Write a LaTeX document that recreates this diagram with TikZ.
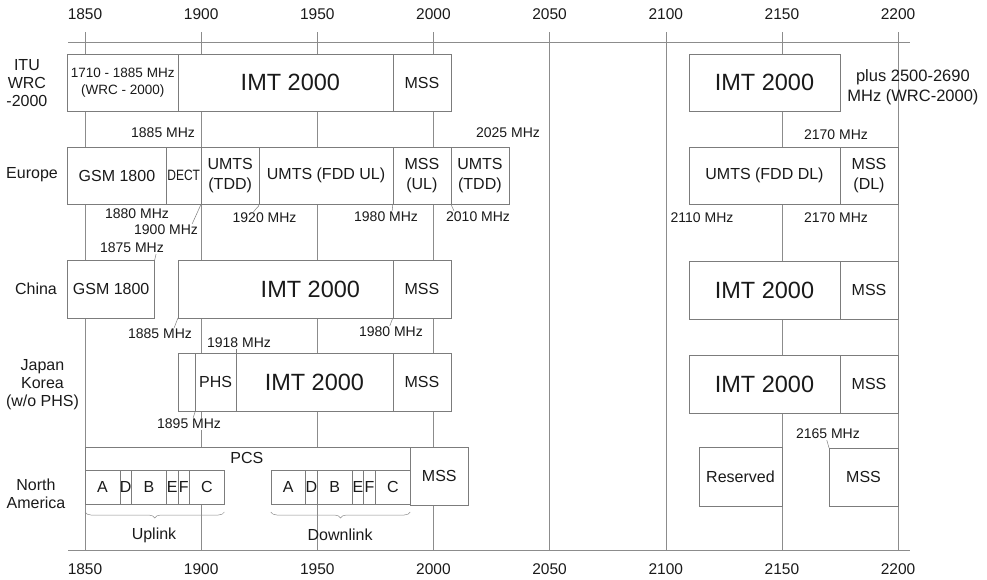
\documentclass[tikz,border=0pt]{standalone}
\usepackage{fontspec}
\setmainfont{Liberation Sans}
\usepackage{graphicx}
\usetikzlibrary{decorations.pathreplacing}
\definecolor{gridgray}{HTML}{8C8C8C}
\definecolor{boxgray}{HTML}{7C7C7C}
\definecolor{inkblack}{HTML}{1A1A1A}

% band box: [text options]{name}{x1}{y1}{x2}{y2}{text}, x in MHz above 1850
\newcommand{\band}[7][]{%
  \node[band,minimum width={((#5)-(#3))*2.323pt},minimum height={((#6)-(#4))*1pt}] (#2) at ({((#3)+(#5))/2},{((#4)+(#6))/2}) {};
  \node[bandtext,#1] (#2-text) at (#2.center) {#7};}

\begin{document}
\begin{tikzpicture}[x=2.323pt,y=-1pt,
  gridline/.style={draw=gridgray,line width=0.5pt},
  band/.style={draw=boxgray,line width=0.6pt,fill=white,inner sep=0pt,outer sep=0pt},
  bandtext/.style={inner sep=0pt,align=center,text=inkblack,font=\fontsize{16}{20}\selectfont},
  big/.style={font=\fontsize{23.5}{26}\selectfont},
  freq/.style={font=\fontsize{14}{16}\selectfont,inner sep=1pt,fill=white,text=inkblack},
  axislabel/.style={font=\fontsize{15.5}{18}\selectfont,inner sep=0pt,text=inkblack},
  rowlabel/.style={font=\fontsize{16}{18}\selectfont,align=center,inner sep=0pt,text=inkblack},
  leader/.style={draw=boxgray,line width=0.5pt},
  linkbrace/.style={draw=gridgray,line width=0.5pt,decorate,decoration={brace,mirror,amplitude=6pt}}]

  \useasboundingbox (-36.59,0) rectangle (388.29,579);

  % frequency axes and grid
  \draw[gridline] (-7.3,42) -- (355,42);
  \draw[gridline] (-7.3,550) -- (355,550);
  \foreach \f in {0,50,...,350} {
    \draw[gridline] (\f,32) -- (\f,550);
    \pgfmathtruncatemacro{\mhz}{1850+\f}
    \node[axislabel] (top\f) at (\f,14) {\mhz};
    \node[axislabel] (bot\f) at (\f,569) {\mhz};
  }

  % ITU WRC-2000
  \node[rowlabel] (itu) at (-25,83) {ITU\\WRC\\-2000};
  \band[font=\fontsize{13.5}{17}\selectfont]{itu-ext}{-7.5}{54}{40}{111}{1710 - 1885 MHz\\(WRC - 2000)}
  \band[big,xshift=5pt]{itu-imt}{40}{54}{132.5}{111}{IMT 2000}
  \band{itu-mss}{132.5}{54}{157.5}{111}{MSS}
  \band[big]{itu-imt2}{260}{54}{325}{111}{IMT 2000}
  \node[rowlabel,font=\fontsize{16.5}{20}\selectfont] (itu-plus) at (356.4,87) {plus 2500-2690\\MHz (WRC-2000)};
  \node[freq] (l1885) at (33.6,133) {1885 MHz};
  \node[freq] (l2025) at (182.1,133) {2025 MHz};
  \node[freq] (l2170) at (323.3,135) {2170 MHz};

  % Europe
  \node[rowlabel] (europe) at (-22.8,175) {Europe};
  \band{eu-gsm}{-7.5}{147}{35}{204}{GSM 1800}
  \band[font=\fontsize{15}{18}\selectfont]{eu-dect}{35}{147}{50}{204}{\scalebox{0.8}[1]{DECT}}
  \band{eu-tdd}{50}{147}{75}{204}{UMTS\\(TDD)}
  \band{eu-fdd}{75}{147}{132.5}{204}{UMTS (FDD UL)}
  \band{eu-mssul}{132.5}{147}{157.5}{204}{MSS\\(UL)}
  \band{eu-tdd2}{157.5}{147}{182.5}{204}{UMTS\\(TDD)}
  \band{eu-fddl}{260}{147}{325}{204}{UMTS (FDD DL)}
  \band{eu-mssdl}{325}{147}{350}{204}{MSS\\(DL)}
  \node[freq] (l1880) at (22.4,214) {1880 MHz};
  \node[freq] (l1900) at (34.9,230) {1900 MHz};
  \node[freq] (l1875) at (20.2,248) {1875 MHz};
  \node[freq] (l1920) at (77.3,218) {1920 MHz};
  \node[freq] (l1980) at (129.6,217) {1980 MHz};
  \node[freq] (l2010) at (169.2,217) {2010 MHz};
  \node[freq] (l2110) at (265.6,218) {2110 MHz};
  \node[freq] (l2170b) at (323.3,218) {2170 MHz};

  % China
  \node[rowlabel] (china) at (-21.1,289) {China};
  \band{cn-gsm}{-7.5}{260}{30}{318}{GSM 1800}
  \band[big,xshift=25pt]{cn-imt}{40}{260}{132.5}{318}{IMT 2000}
  \band{cn-mss}{132.5}{260}{157.5}{318}{MSS}
  \band[big]{cn-imt2}{260}{261}{325}{319}{IMT 2000}
  \band{cn-mss2}{325}{261}{350}{319}{MSS}
  \node[freq] (l1885c) at (32.3,334) {1885 MHz};
  \node[freq] (l1980c) at (131.7,332) {1980 MHz};
  \node[freq] (l1918) at (66.3,343) {1918 MHz};

  % Japan / Korea
  \node[rowlabel] (japan) at (-18.3,385) {Japan\\Korea\\(w/o PHS)};
  \band{jp-blank}{40}{353}{47.5}{411}{}
  \band{jp-phs}{47.5}{353}{65}{411}{PHS}
  \band[big]{jp-imt}{65}{353}{132.5}{411}{IMT 2000}
  \band{jp-mss}{132.5}{353}{157.5}{411}{MSS}
  \band[big]{jp-imt2}{260}{355}{325}{413}{IMT 2000}
  \band{jp-mss2}{325}{355}{350}{413}{MSS}
  \node[freq] (l1895) at (44.8,424) {1895 MHz};

  % North America
  \node[rowlabel] (namerica) at (-21.1,494) {North\\America};
  \fill[white] (0,447) rectangle (140,470);
  \draw[boxgray,line width=0.6pt] (0,470) -- (0,447) -- (140,447) -- (140,470);
  \node[bandtext] (pcs) at (69.7,458) {PCS};
  \foreach \lbl/\a/\b in {A/0/15, D/15/20, B/20/35, E/35/40, F/40/45, C/45/60} {
    \band{up\lbl}{\a}{470}{\b}{504}{\lbl}
  }
  \foreach \lbl/\a/\b in {A/80/95, D/95/100, B/100/115, E/115/120, F/120/125, C/125/140} {
    \band{dn\lbl}{\a}{470}{\b}{504}{\lbl}
  }
  \band{na-mss}{140}{447}{165}{505}{MSS}
  \band{na-res}{264.3}{447}{300}{506}{Reserved}
  \band{na-mss2}{320.3}{448}{350}{506}{MSS}
  \node[freq] (l2165) at (319.8,434) {2165 MHz};
  \draw[linkbrace] ([yshift=-8pt]upA.south west) -- ([yshift=-8pt]upC.south east);
  \draw[linkbrace] ([yshift=-8pt]dnA.south west) -- ([yshift=-8pt]dnC.south east);
  \node[rowlabel] (uplink) at (29.7,535) {Uplink};
  \node[rowlabel] (downlink) at (109.8,535) {Downlink};

  % leaders from the labels to the band edges
  \draw[leader] (eu-dect.south east) -- ([xshift=-7pt]l1900.north east);
  \draw[leader] (eu-tdd.south east) to[out=-95,in=70] ([xshift=22pt]l1920.north west);
  \draw[leader] ([xshift=-9pt]l1875.south east) -- (cn-gsm.north east);
  \draw[leader] (eu-fdd.south east) -- ([xshift=-27pt]l1980.north east);
  \draw[leader] (eu-mssul.south east) -- ([xshift=9pt]l2010.north west);
  \draw[leader] (cn-imt.south west) -- ([xshift=-19pt]l1885c.north east);
  \draw[leader] (cn-imt.south east) -- ([xshift=32pt]l1980c.north west);
  \draw[leader] (jp-phs.north east) -- (jp-phs.north east |- l1918.south);
  \draw[leader] (jp-blank.south east) -- ([xshift=-29pt]l1895.north east);
  \draw[leader] ([xshift=32pt]l2165.south west) -- (na-mss2.north west);
\end{tikzpicture}
\end{document}
